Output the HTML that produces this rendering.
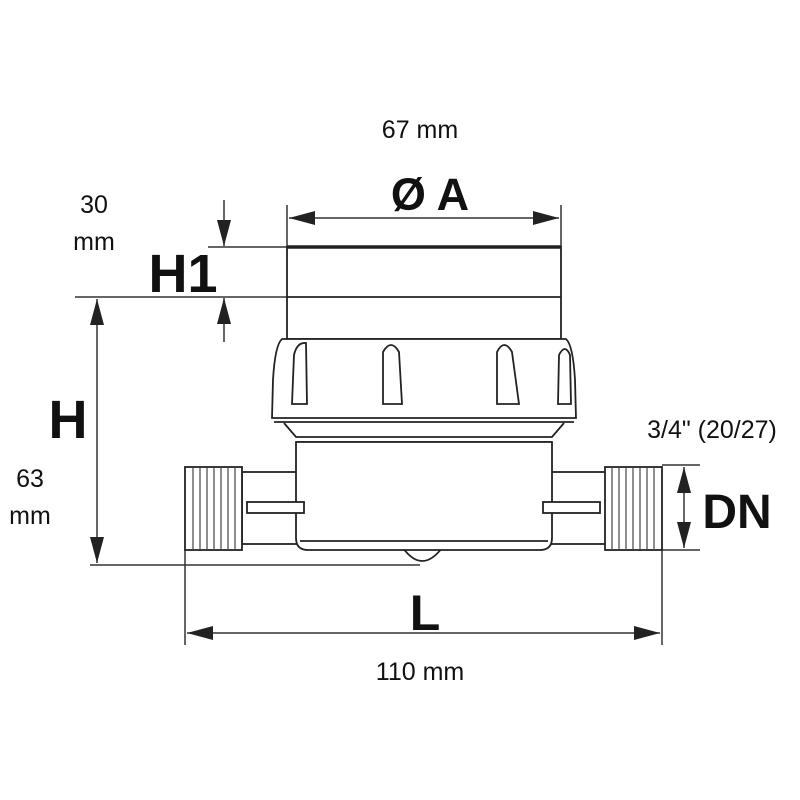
<!DOCTYPE html>
<html><head><meta charset="utf-8"><style>
html,body{margin:0;padding:0;background:#fff}
svg{display:block}
text{font-family:"Liberation Sans",sans-serif;fill:#111}
.b{font-weight:bold}
</style></head><body>
<svg width="800" height="800" viewBox="0 0 800 800" xmlns="http://www.w3.org/2000/svg">
<defs>
<marker id="a" viewBox="0 0 26 14" refX="26" refY="7" markerWidth="26" markerHeight="14" markerUnits="userSpaceOnUse" orient="auto-start-reverse"><path d="M0,0L26,7L0,14z" fill="#222"/></marker>
</defs>
<g stroke="#333" stroke-width="1.5" fill="none">
<line x1="287" y1="205" x2="287" y2="247"/>
<line x1="561" y1="205" x2="561" y2="247"/>
<line x1="208" y1="247" x2="287" y2="247"/>
<line x1="75" y1="297" x2="287" y2="297"/>
<line x1="90" y1="565" x2="420" y2="565"/>
<line x1="185" y1="550" x2="185" y2="645"/>
<line x1="662" y1="550" x2="662" y2="645"/>
<line x1="662" y1="465" x2="700" y2="465"/>
<line x1="662" y1="550" x2="700" y2="550"/>
<line x1="289" y1="218" x2="559" y2="218" marker-start="url(#a)" marker-end="url(#a)"/>
<line x1="224" y1="200" x2="224" y2="246" marker-end="url(#a)"/>
<line x1="224" y1="342" x2="224" y2="298" marker-end="url(#a)"/>
<line x1="97" y1="299" x2="97" y2="563" marker-start="url(#a)" marker-end="url(#a)"/>
<line x1="187" y1="633" x2="660" y2="633" marker-start="url(#a)" marker-end="url(#a)"/>
<line x1="684" y1="467" x2="684" y2="548" marker-start="url(#a)" marker-end="url(#a)"/>
</g>
<g stroke="#222" stroke-width="1.8" fill="#fff">
<rect x="287" y="247" width="274" height="92"/>
<line x1="287" y1="247" x2="561" y2="247" stroke-width="3.5"/>
<line x1="287" y1="297" x2="561" y2="297"/>
<path d="M282,339 L566,339 Q573,345 575,380 L576,418 L272,418 L273,380 Q275,345 282,339 Z"/>
<line x1="274" y1="422" x2="574" y2="422"/>
<path d="M284,423 L296,437 L552,437 L564,423"/>
<line x1="296" y1="442" x2="552" y2="442"/>
<path d="M292,404 L294,355 Q297,342 306,343 L307,404 Z"/>
<path d="M383,404 L383,352 Q391,338 399,352 L402,404 Z"/>
<path d="M497,404 L497,352 Q504,338 512,352 L519,404 Z"/>
<path d="M558,404 L559,355 Q565,343 570,355 L571,404 Z"/>
<path d="M403,548 Q422,574 442,548"/>
<rect x="242" y="472" width="56" height="72"/>
<rect x="550" y="472" width="56" height="72"/>
<path d="M296,442 L552,442 L552,538 Q552,550 540,550 L308,550 Q296,550 296,538 Z"/>
<line x1="300" y1="541" x2="548" y2="541"/>
<rect x="247" y="502" width="57" height="11"/>
<rect x="543" y="502" width="57" height="11"/>
<rect x="185" y="467" width="57" height="83"/>
<rect x="605" y="467" width="57" height="83"/>
</g>
<g stroke="#444" stroke-width="1.2">
<line x1="193" y1="467" x2="193" y2="550"/><line x1="200" y1="467" x2="200" y2="550"/><line x1="207" y1="467" x2="207" y2="550"/><line x1="214" y1="467" x2="214" y2="550"/><line x1="221" y1="467" x2="221" y2="550"/><line x1="228" y1="467" x2="228" y2="550"/><line x1="235" y1="467" x2="235" y2="550"/>
<line x1="612" y1="467" x2="612" y2="550"/><line x1="619" y1="467" x2="619" y2="550"/><line x1="626" y1="467" x2="626" y2="550"/><line x1="633" y1="467" x2="633" y2="550"/><line x1="640" y1="467" x2="640" y2="550"/><line x1="647" y1="467" x2="647" y2="550"/><line x1="654" y1="467" x2="654" y2="550"/>
</g>
<text x="420" y="138" font-size="25" text-anchor="middle">67 mm</text>
<text x="430" y="210" font-size="45" class="b" text-anchor="middle">Ø A</text>
<text x="94" y="213" font-size="25" text-anchor="middle">30</text>
<text x="94" y="250" font-size="25" text-anchor="middle">mm</text>
<text x="183" y="292" font-size="54" class="b" text-anchor="middle">H1</text>
<text x="68" y="438" font-size="54" class="b" text-anchor="middle">H</text>
<text x="30" y="487" font-size="25" text-anchor="middle">63</text>
<text x="30" y="524" font-size="25" text-anchor="middle">mm</text>
<text x="712" y="438" font-size="25" text-anchor="middle">3/4" (20/27)</text>
<text x="737" y="528" font-size="48" class="b" text-anchor="middle">DN</text>
<text x="425" y="630" font-size="50" class="b" text-anchor="middle">L</text>
<text x="420" y="680" font-size="25" text-anchor="middle">110 mm</text>
</svg>
</body></html>
